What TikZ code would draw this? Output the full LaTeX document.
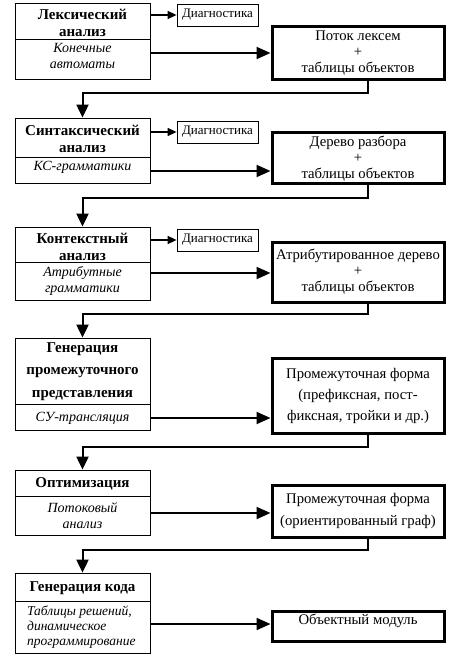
\documentclass[tikz,border=0pt]{standalone}
\usepackage{fontspec}
\setmainfont{Liberation Serif}
\usetikzlibrary{arrows.meta}
\begin{document}
\begin{tikzpicture}[x=1pt,y=-1pt,
  stage/.style={draw, line width=0.8pt, minimum width=135pt, inner sep=0pt},
  ttl/.style={font=\fontsize{15}{17}\selectfont\bfseries, align=center, inner sep=0pt},
  meth/.style={font=\fontsize{14}{16}\selectfont\itshape, align=center, inner sep=0pt},
  diagbox/.style={draw, line width=0.8pt, minimum width=81pt, minimum height=22pt, inner sep=0pt, font=\fontsize{13}{15}\selectfont},
  outbox/.style={draw, line width=3pt, minimum width=172pt, inner sep=0pt, align=center, font=\fontsize{14.7}{16}\selectfont},
  mainarrow/.style={line width=2pt, -{Triangle[length=14pt,width=12pt]}},
  diagarrow/.style={line width=1.5pt, -{Triangle[length=9pt,width=8pt]}},
  conn/.style={line width=2pt, -{Triangle[length=13pt,width=12pt]}},
  divline/.style={line width=0.8pt}
]
\useasboundingbox (0,0) rectangle (461,668);

% ---- stage 1
\node[stage, minimum height=76pt] (b1) at (82.5,41) {};
\coordinate (v1) at (82.5,39);
\draw[divline] (b1.west |- v1) -- (b1.east |- v1);
\node[ttl] (b1t) at (82.5,23) {Лексический\\анализ};
\node[meth] (b1m) at (82.5,56) {Конечные\\автоматы};
\node[diagbox] (d1) at (217.5,15) {Диагностика};
\node[outbox, minimum height=53pt] (o1) at (358,53.5) {Поток лексем\\+\\таблицы объектов};
\draw[diagarrow] (b1.east |- d1) -- (d1.west);
\coordinate (a1) at (0,53);
\draw[mainarrow] (b1.east |- a1) -- (o1.west |- a1);

% ---- stage 2
\node[stage, minimum height=65pt] (b2) at (82.5,150.5) {};
\coordinate (v2) at (82.5,157);
\draw[divline] (b2.west |- v2) -- (b2.east |- v2);
\node[ttl] (b2t) at (82.5,138.5) {Синтаксический\\анализ};
\node[meth] (b2m) at (82.5,167) {КС-грамматики};
\node[diagbox] (d2) at (217.5,132) {Диагностика};
\node[outbox, minimum height=51pt] (o2) at (358,158.5) {Дерево разбора\\+\\таблицы объектов};
\draw[diagarrow] (b2.east |- d2) -- (d2.west);
\coordinate (a2) at (0,171);
\draw[mainarrow] (b2.east |- a2) -- (o2.west |- a2);

% ---- stage 3
\node[stage, minimum height=73pt] (b3) at (82.5,263.5) {};
\coordinate (v3) at (82.5,262);
\draw[divline] (b3.west |- v3) -- (b3.east |- v3);
\node[ttl] (b3t) at (82.5,246.5) {Контекстный\\анализ};
\node[meth] (b3m) at (82.5,281) {Атрибутные\\грамматики};
\node[diagbox] (d3) at (217.5,240) {Диагностика};
\node[outbox, minimum height=60pt] (o3) at (358,272) {Атрибутированное дерево\\+\\таблицы объектов};
\draw[diagarrow] (b3.east |- d3) -- (d3.west);
\coordinate (a3) at (0,273);
\draw[mainarrow] (b3.east |- a3) -- (o3.west |- a3);

% ---- stage 4
\node[stage, minimum height=92pt] (b4) at (82.5,384) {};
\coordinate (v4) at (82.5,404);
\draw[divline] (b4.west |- v4) -- (b4.east |- v4);
\node[ttl, font=\fontsize{15}{22.5}\selectfont\bfseries] (b4t) at (82.5,371.5) {Генерация\\промежуточного\\представления};
\node[meth] (b4m) at (82.5,418) {СУ-трансляция};
\node[outbox, minimum height=75pt, font=\fontsize{14.7}{21}\selectfont] (o4) at (358,395.5) {Промежуточная форма\\(префиксная, пост-\\фиксная, тройки и др.)};
\coordinate (a4) at (0,418);
\draw[mainarrow] (b4.east |- a4) -- (o4.west |- a4);

% ---- stage 5
\node[stage, minimum height=65pt] (b5) at (82.5,502.5) {};
\coordinate (v5) at (82.5,496);
\draw[divline] (b5.west |- v5) -- (b5.east |- v5);
\node[ttl] (b5t) at (82.5,484) {Оптимизация};
\node[meth] (b5m) at (82.5,516) {Потоковый\\анализ};
\node[outbox, minimum height=52pt, font=\fontsize{14.7}{22}\selectfont] (o5) at (358,511) {Промежуточная форма\\(ориентированный граф)};
\coordinate (a5) at (0,513);
\draw[mainarrow] (b5.east |- a5) -- (o5.west |- a5);

% ---- stage 6
\node[stage, minimum height=80pt] (b6) at (82.5,613) {};
\coordinate (v6) at (82.5,601);
\draw[divline] (b6.west |- v6) -- (b6.east |- v6);
\node[ttl] (b6t) at (82.5,588) {Генерация кода};
\node[meth, align=left, anchor=west, font=\fontsize{13.5}{15}\selectfont\itshape] (b6m) at (27,627) {Таблицы решений,\\динамическое\\программирование};
\node[outbox, minimum height=30pt] (o6) at (358,626) {};
\node[font=\fontsize{14.7}{16}\selectfont, inner sep=0pt] (o6t) at (358,621) {Объектный модуль};
\coordinate (a6) at (0,624);
\draw[mainarrow] (b6.east |- a6) -- (o6.west |- a6);

% ---- connectors between stages
\draw[conn] ([xshift=9.5pt]o1.south) -- ++(0,12) -| (b2.north);
\draw[conn] ([xshift=9.5pt]o2.south) -- ++(0,13) -| (b3.north);
\draw[conn] ([xshift=9.5pt]o3.south) -- ++(0,10) -| (b4.north);
\draw[conn] ([xshift=9.5pt]o4.south) -- ++(0,12) -| (b5.north);
\draw[conn] ([xshift=9.5pt]o5.south) -- ++(0,11) -| (b6.north);
\end{tikzpicture}
\end{document}
